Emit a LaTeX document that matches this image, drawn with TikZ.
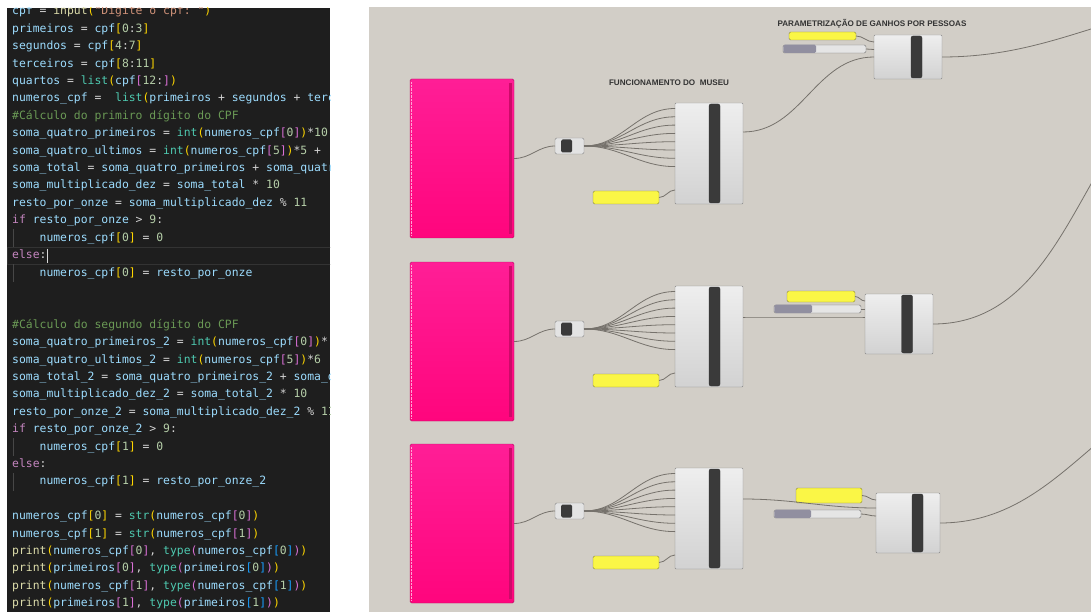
\documentclass[tikz,border=0pt]{standalone}
\usepackage{fontspec}
\setmainfont{Liberation Sans}
\setmonofont{DejaVu Sans Mono}

\definecolor{codebg}{RGB}{30,30,30}
\definecolor{codevar}{RGB}{156,220,254}
\definecolor{codeop}{RGB}{212,212,212}
\definecolor{codenum}{RGB}{181,206,168}
\definecolor{codefun}{RGB}{220,220,170}
\definecolor{codecls}{RGB}{78,201,176}
\definecolor{codestr}{RGB}{206,145,120}
\definecolor{codecom}{RGB}{106,153,85}
\definecolor{codekey}{RGB}{197,134,192}
\definecolor{brgold}{RGB}{255,215,0}
\definecolor{brpink}{RGB}{218,112,214}
\definecolor{brblue}{RGB}{23,159,255}
\definecolor{ghbg}{RGB}{210,206,199}
\definecolor{ghwire}{RGB}{118,114,108}
\definecolor{ghedge}{RGB}{135,135,135}
\definecolor{ghtop}{RGB}{238,238,238}
\definecolor{ghbot}{RGB}{210,210,210}
\definecolor{ghbar}{RGB}{58,58,58}
\definecolor{ghyellow}{RGB}{250,246,70}
\definecolor{ghyedge}{RGB}{140,138,60}
\definecolor{ghslide}{RGB}{145,143,160}
\definecolor{pinktop}{RGB}{255,30,150}
\definecolor{pinkbot}{RGB}{255,5,125}
\definecolor{pinkedge}{RGB}{180,20,100}
\definecolor{pinkdark}{RGB}{205,10,105}

\newcommand\kvar[1]{\textcolor{codevar}{#1}}
\newcommand\kop[1]{\textcolor{codeop}{#1}}
\newcommand\knum[1]{\textcolor{codenum}{#1}}
\newcommand\kfun[1]{\textcolor{codefun}{#1}}
\newcommand\kcls[1]{\textcolor{codecls}{#1}}
\newcommand\kstr[1]{\textcolor{codestr}{#1}}
\newcommand\kcom[1]{\textcolor{codecom}{#1}}
\newcommand\kkey[1]{\textcolor{codekey}{#1}}
\newcommand\kba[1]{\textcolor{brgold}{#1}}
\newcommand\kbb[1]{\textcolor{brpink}{#1}}
\newcommand\kbc[1]{\textcolor{brblue}{#1}}

\tikzset{
  codeline/.style={anchor=west, inner sep=0, text height=8.6, text depth=2.6,
    font=\ttfamily\fontsize{11.4}{13}\selectfont, text=codeop},
  grouplabel/.style={inner sep=0, text=black!80, font=\bfseries\fontsize{8.1}{10}\selectfont},
  pinkpanel/.style={draw=pinkedge, top color=pinktop, bottom color=pinkbot,
    rounded corners=1.5, inner sep=0, outer sep=0, minimum width=104, minimum height=159},
  relay/.style={draw=ghedge, fill=black!11, rounded corners=1.5, inner sep=0, outer sep=0,
    minimum width=29, minimum height=16},
  relaygrip/.style={fill=ghbar, rounded corners=1.5, inner sep=0, minimum width=11, minimum height=13},
  comp/.style={draw=ghedge, top color=ghtop, bottom color=ghbot, rounded corners=1,
    inner sep=0, outer sep=0},
  compbar/.style={draw=black!80, fill=ghbar, rounded corners=2, inner sep=0, minimum width=11},
  ypanel/.style={draw=ghyedge, fill=ghyellow, rounded corners=1.5, inner sep=0, outer sep=0},
  slider/.style={draw=black!55, fill=black!10, rounded corners=1.5, inner sep=0, outer sep=0,
    minimum height=8},
  wire/.style={draw=ghwire, line width=0.8}
}

\begin{document}
\begin{tikzpicture}[x=1pt, y=-1pt]
\useasboundingbox (0,0) rectangle (1091,612);
\fill[white] (0,0) rectangle (1091,612);

% editor
\fill[codebg] (7,8) rectangle (330,612);
\begin{scope}
\clip (7,8) rectangle (330,612);
\draw[black!80!white] (7,{12+17.4*14-8.7}) rectangle (331,{12+17.4*14+8.7});
\foreach \n in {13,15,25,27}
  \draw[black!72!white] (13,{12+17.4*\n-8.7}) -- (13,{12+17.4*\n+8.7});
\foreach \txt [count=\n from 0] in {
 {\kvar{cpf} \kop{=} \kfun{input}\kba{(}\kstr{"Digite o cpf: "}\kba{)}},
 {\kvar{primeiros} \kop{=} \kvar{cpf}\kba{[}\knum{0}\kop{:}\knum{3}\kba{]}},
 {\kvar{segundos} \kop{=} \kvar{cpf}\kba{[}\knum{4}\kop{:}\knum{7}\kba{]}},
 {\kvar{terceiros} \kop{=} \kvar{cpf}\kba{[}\knum{8}\kop{:}\knum{11}\kba{]}},
 {\kvar{quartos} \kop{=} \kcls{list}\kba{(}\kvar{cpf}\kbb{[}\knum{12}\kop{:}\kbb{]}\kba{)}},
 {\kvar{numeros\_cpf} \kop{=}\ \ \kcls{list}\kba{(}\kvar{primeiros} \kop{+} \kvar{segundos} \kop{+} \kvar{terceiros} \kop{+} \kvar{quartos}\kba{)}},
 {\kcom{\#Cálculo do primiro dígito do CPF}},
 {\kvar{soma\_quatro\_primeiros} \kop{=} \kcls{int}\kba{(}\kvar{numeros\_cpf}\kbb{[}\knum{0}\kbb{]}\kba{)}\kop{*}\knum{10}},
 {\kvar{soma\_quatro\_ultimos} \kop{=} \kcls{int}\kba{(}\kvar{numeros\_cpf}\kbb{[}\knum{5}\kbb{]}\kba{)}\kop{*}\knum{5} \kop{+}},
 {\kvar{soma\_total} \kop{=} \kvar{soma\_quatro\_primeiros} \kop{+} \kvar{soma\_quatro\_ultimos}},
 {\kvar{soma\_multiplicado\_dez} \kop{=} \kvar{soma\_total} \kop{*} \knum{10}},
 {\kvar{resto\_por\_onze} \kop{=} \kvar{soma\_multiplicado\_dez} \kop{\%} \knum{11}},
 {\kkey{if} \kvar{resto\_por\_onze} \kop{>} \knum{9}\kop{:}},
 {\phantom{0000}\kvar{numeros\_cpf}\kba{[}\knum{0}\kba{]} \kop{=} \knum{0}},
 {\kkey{else}\kop{:}},
 {\phantom{0000}\kvar{numeros\_cpf}\kba{[}\knum{0}\kba{]} \kop{=} \kvar{resto\_por\_onze}},
 {},
 {},
 {\kcom{\#Cálculo do segundo dígito do CPF}},
 {\kvar{soma\_quatro\_primeiros\_2} \kop{=} \kcls{int}\kba{(}\kvar{numeros\_cpf}\kbb{[}\knum{0}\kbb{]}\kba{)}\kop{*}},
 {\kvar{soma\_quatro\_ultimos\_2} \kop{=} \kcls{int}\kba{(}\kvar{numeros\_cpf}\kbb{[}\knum{5}\kbb{]}\kba{)}\kop{*}\knum{6}},
 {\kvar{soma\_total\_2} \kop{=} \kvar{soma\_quatro\_primeiros\_2} \kop{+} \kvar{soma\_quatro\_ultimos\_2}},
 {\kvar{soma\_multiplicado\_dez\_2} \kop{=} \kvar{soma\_total\_2} \kop{*} \knum{10}},
 {\kvar{resto\_por\_onze\_2} \kop{=} \kvar{soma\_multiplicado\_dez\_2} \kop{\%} \knum{11}},
 {\kkey{if} \kvar{resto\_por\_onze\_2} \kop{>} \knum{9}\kop{:}},
 {\phantom{0000}\kvar{numeros\_cpf}\kba{[}\knum{1}\kba{]} \kop{=} \knum{0}},
 {\kkey{else}\kop{:}},
 {\phantom{0000}\kvar{numeros\_cpf}\kba{[}\knum{1}\kba{]} \kop{=} \kvar{resto\_por\_onze\_2}},
 {},
 {\kvar{numeros\_cpf}\kba{[}\knum{0}\kba{]} \kop{=} \kcls{str}\kba{(}\kvar{numeros\_cpf}\kbb{[}\knum{0}\kbb{]}\kba{)}},
 {\kvar{numeros\_cpf}\kba{[}\knum{1}\kba{]} \kop{=} \kcls{str}\kba{(}\kvar{numeros\_cpf}\kbb{[}\knum{1}\kbb{]}\kba{)}},
 {\kfun{print}\kba{(}\kvar{numeros\_cpf}\kbb{[}\knum{0}\kbb{]}\kop{,} \kcls{type}\kbb{(}\kvar{numeros\_cpf}\kbc{[}\knum{0}\kbc{]}\kbb{)}\kba{)}},
 {\kfun{print}\kba{(}\kvar{primeiros}\kbb{[}\knum{0}\kbb{]}\kop{,} \kcls{type}\kbb{(}\kvar{primeiros}\kbc{[}\knum{0}\kbc{]}\kbb{)}\kba{)}},
 {\kfun{print}\kba{(}\kvar{numeros\_cpf}\kbb{[}\knum{1}\kbb{]}\kop{,} \kcls{type}\kbb{(}\kvar{numeros\_cpf}\kbc{[}\knum{1}\kbc{]}\kbb{)}\kba{)}},
 {\kfun{print}\kba{(}\kvar{primeiros}\kbb{[}\knum{1}\kbb{]}\kop{,} \kcls{type}\kbb{(}\kvar{primeiros}\kbc{[}\knum{1}\kbc{]}\kbb{)}\kba{)}}}
  \node[codeline] (line\n) at (12,{12+17.4*\n}) {\txt};
\draw[white!85!black, line width=0.8] (47,{12+17.4*14-7}) -- (47,{12+17.4*14+7});
\end{scope}

% canvas
\fill[ghbg] (369,7) rectangle (1091,612);
\begin{scope}
\clip (369,7) rectangle (1091,612);
\coordinate (o1) at (1240,1);
\coordinate (o2) at (1240,60);
\coordinate (o3) at (1235,380);

\foreach \r/\dy in {1/0,2/183,3/365}{
  \node[pinkpanel] (p\r) at (462,{158.5+\dy}) {};
  \fill[pinkdark] ([xshift=-5,yshift=-4]p\r.north east) rectangle ([xshift=-2,yshift=4]p\r.south east);
  \draw[white!60!pinktop, densely dotted] ([xshift=1,yshift=-3]p\r.north west) -- ([xshift=1,yshift=3]p\r.south west);
  \node[relay] (r\r) at (569.5,{146+\dy}) {};
  \node[relaygrip] (g\r) at (566.5,{146+\dy}) {};
  \node[comp, minimum width=68, minimum height=101] (c\r) at (709,{153.5+\dy}) {};
  \node[compbar, minimum height=99] (b\r) at ([xshift=5.5]c\r.center) {};
  \node[ypanel, minimum width=66, minimum height=13] (y\r) at (626,{197.5+\dy}) {};
  \draw[wire] (p\r.east) to[out=0,in=180] (r\r.west);
  \foreach \k in {0,...,7}
    \draw[wire] (r\r.east) to[out=0,in=180] ([yshift={-5.5-8.3*\k}]c\r.north west);
  \draw[wire] (y\r.east) to[out=0,in=180] ([yshift=-87]c\r.north west);
}

\node[grouplabel] (t1) at (669,83) {FUNCIONAMENTO DO\ \ MUSEU};
\node[grouplabel] (t2) at (872,24) {PARAMETRIZAÇÃO DE GANHOS POR PESSOAS};

% top group
\node[ypanel, minimum width=67, minimum height=8] (ya) at (822.5,36) {};
\node[slider, minimum width=83] (sa) at (824.5,49) {};
\fill[ghslide, rounded corners=1.5] ([shift={(0.4,-0.4)}]sa.north west) rectangle ([xshift=33]sa.south west);
\node[comp, minimum width=68, minimum height=44] (ca) at (908,57) {};
\node[compbar, minimum height=42] (ba) at ([xshift=8.5]ca.center) {};
\draw[wire] (ya.east) to[out=0,in=180] ([yshift=-7]ca.north west);
\draw[wire] (sa.east) to[out=0,in=180] ([yshift=-14.5]ca.north west);
\draw[wire] ([yshift=-29]c1.north east) to[out=0,in=180] ([yshift=-22]ca.north west);
\draw[wire] (ca.east) to[out=0,in=180] (o1);

% middle group
\node[ypanel, minimum width=68, minimum height=11] (yb) at (821,296.5) {};
\node[slider, minimum width=87] (sb) at (817.5,309) {};
\fill[ghslide, rounded corners=1.5] ([shift={(0.4,-0.4)}]sb.north west) rectangle ([xshift=38]sb.south west);
\node[comp, minimum width=68, minimum height=60] (cb) at (899,324) {};
\node[compbar, minimum height=58] (bb) at ([xshift=8]cb.center) {};
\draw[wire] (yb.east) to[out=0,in=180] ([yshift=-7]cb.north west);
\draw[wire] (sb.east) to[out=0,in=180] ([yshift=-15]cb.north west);
\draw[wire] ([yshift=-31]c2.north east) to[out=0,in=180] ([yshift=-23]cb.north west);
\draw[wire] (cb.east) to[out=0,in=180] (o2);

% bottom group
\node[ypanel, minimum width=66, minimum height=15] (yc) at (829,495.5) {};
\node[slider, minimum width=87] (sc) at (817.5,514) {};
\fill[ghslide, rounded corners=1.5] ([shift={(0.4,-0.4)}]sc.north west) rectangle ([xshift=37]sc.south west);
\node[comp, minimum width=64, minimum height=60] (cc) at (908,523) {};
\node[compbar, minimum height=58] (bc) at ([xshift=9.5]cc.center) {};
\draw[wire] (yc.east) to[out=0,in=180] ([yshift=-7]cc.north west);
\draw[wire] ([yshift=-31]c3.north east) to[out=0,in=180] ([yshift=-15]cc.north west);
\draw[wire] (sc.east) to[out=0,in=180] ([yshift=-23]cc.north west);
\draw[wire] (cc.east) to[out=0,in=180] (o3);
\end{scope}
\end{tikzpicture}
\end{document}
